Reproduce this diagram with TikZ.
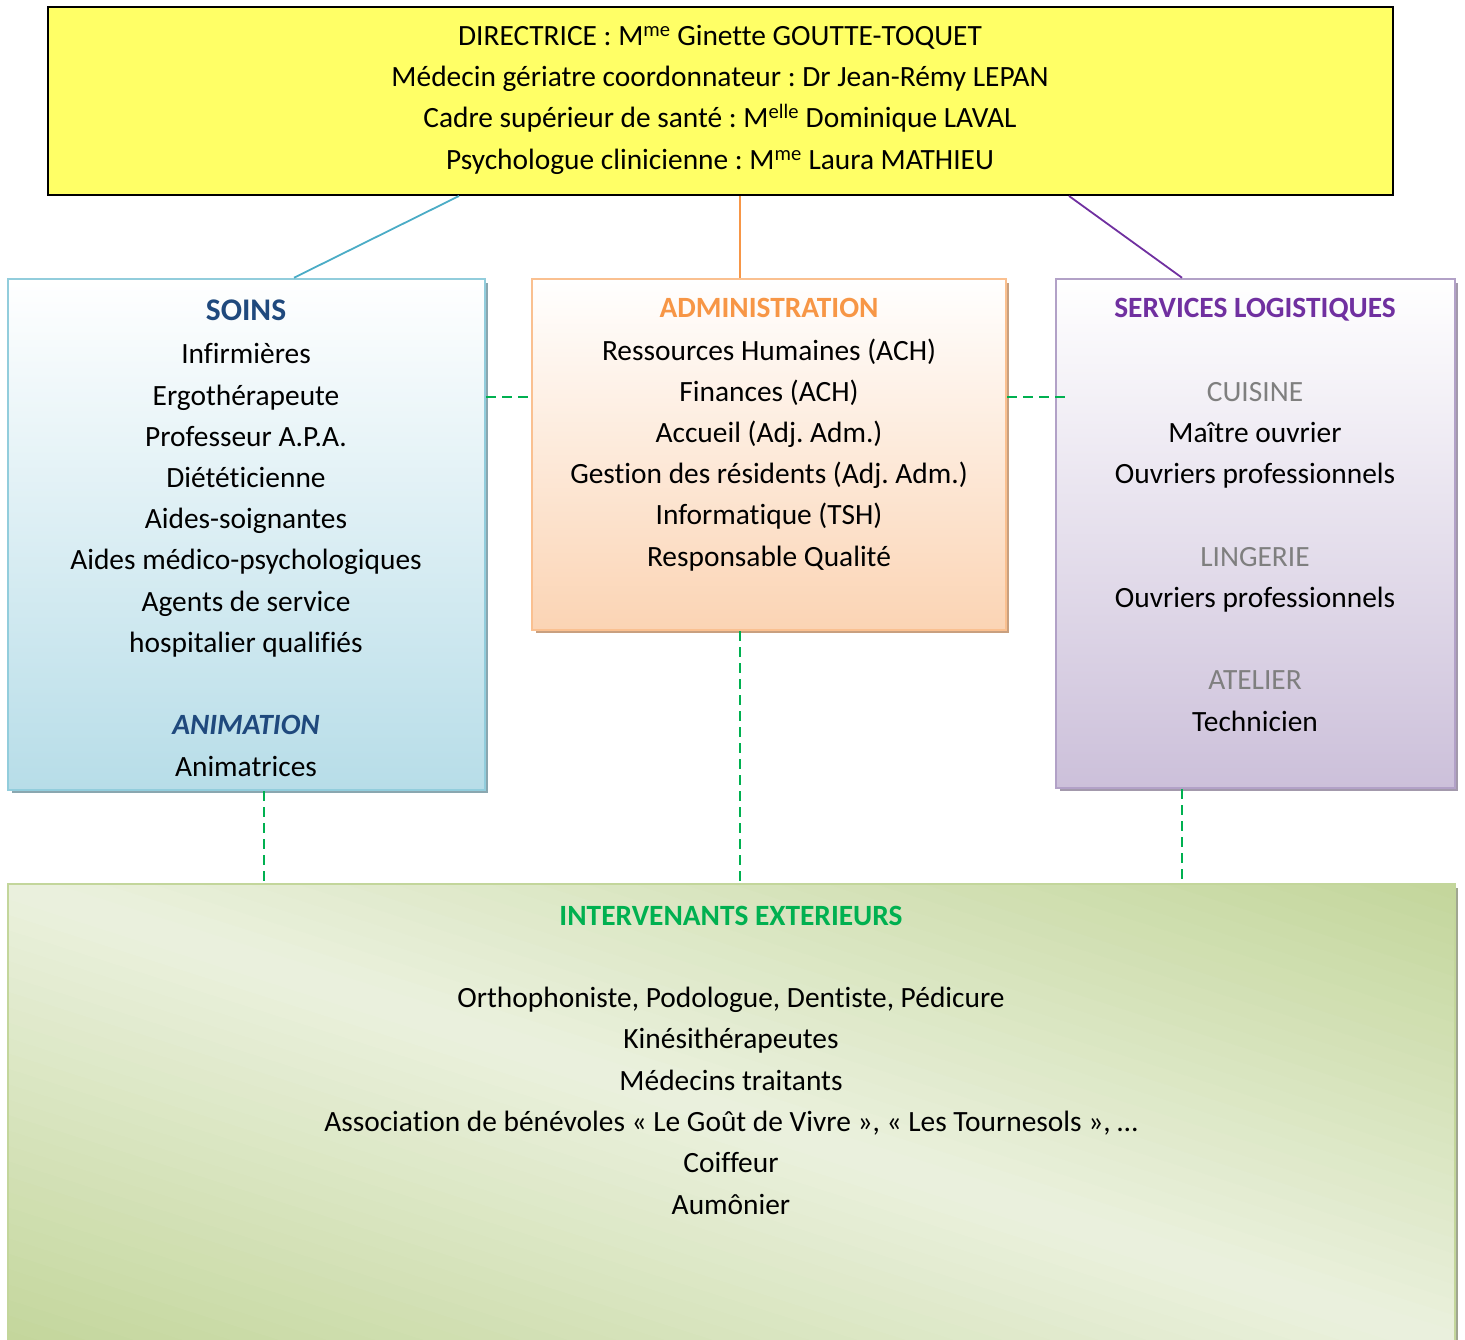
\documentclass[tikz,border=0pt]{standalone}
\usepackage{fontspec}
\setmainfont{Carlito}[Ligatures=CommonOff]
\frenchspacing
\definecolor{yel}{HTML}{FFFF66}
\definecolor{soinsB}{HTML}{92CDDC}
\definecolor{soinsF}{HTML}{B7DDE8}
\definecolor{soinsS}{HTML}{8AA7B0}
\definecolor{admB}{HTML}{FAC090}
\definecolor{admF}{HTML}{FBD4B4}
\definecolor{admS}{HTML}{C9A07F}
\definecolor{logB}{HTML}{B2A1C7}
\definecolor{logF}{HTML}{CCC0DA}
\definecolor{logS}{HTML}{A399AC}
\definecolor{extB}{HTML}{C3D69B}
\definecolor{extL}{HTML}{EBF1DE}
\definecolor{extS}{HTML}{A0A690}
\definecolor{dblue}{HTML}{1F497D}
\definecolor{orng}{HTML}{F79646}
\definecolor{purp}{HTML}{7030A0}
\definecolor{grn}{HTML}{00B050}
\definecolor{lblue}{HTML}{4BACC6}
\definecolor{gry}{HTML}{7F7F7F}
\begin{document}
\begin{tikzpicture}[x=1pt,y=-1pt,
  txt/.style={anchor=base,inner sep=0pt,font=\fontsize{29.4}{34}\selectfont},
  hd/.style={font=\fontsize{29.4}{34}\selectfont\bfseries},
  boxbase/.style={rectangle,inner sep=0pt,line width=2.5pt},
  dashline/.style={draw=grn,line width=2.2pt,dash pattern=on 10pt off 6pt},
  link/.style={line width=1.8pt}]
\useasboundingbox (0,0) rectangle (1465,1340);

% shadows
\fill[soinsS] (12,283) rectangle (488,793);
\fill[admS] (536,283) rectangle (1009,633);
\fill[logS] (1060,283) rectangle (1458,791);
\fill[extS] (12,888) rectangle (1458,1345);

% diagonal gradient of the bottom box
\begin{scope}
\clip (8,884) rectangle (1455,1346);
\foreach \i in {-30,...,29}{
  \pgfmathsetmacro{\da}{\i/30}
  \pgfmathsetmacro{\db}{(\i+1)/30+0.002}
  \pgfmathsetmacro{\pc}{abs((\i+0.5)/30)*100}
  \fill[extB!\pc!extL] ({8+1447*(\da-0.1)},837.8) -- ({8+1447*(\db-0.1)},837.8)
     -- ({8+1447*(\db+1.1)},1392.2) -- ({8+1447*(\da+1.1)},1392.2) -- cycle;
}
\end{scope}

% boxes
\node[boxbase,draw=black,line width=2pt,fill=yel,minimum width=1345pt,minimum height=188pt] (top) at (720.5,101) {};
\node[boxbase,draw=soinsB,top color=white,bottom color=soinsF,minimum width=477pt,minimum height=511pt] (soins) at (246.5,534.5) {};
\node[boxbase,draw=admB,top color=white,bottom color=admF,minimum width=474pt,minimum height=351pt] (adm) at (769,454.5) {};
\node[boxbase,draw=logB,top color=white,bottom color=logF,minimum width=399pt,minimum height=509pt] (log) at (1255.5,533.5) {};
\node[boxbase,draw=extB,minimum width=1447pt,minimum height=462pt] (ext) at (731.5,1115) {};

% connectors
\draw[link,lblue] ([xshift=-261.5pt]top.south) -- ([xshift=47.5pt]soins.north);
\draw[link,orng] ([xshift=19.5pt]top.south) -- ([xshift=-29pt]adm.north);
\draw[link,purp] ([xshift=348.5pt]top.south) -- ([xshift=-73.5pt]log.north);

\coordinate (dashEnd) at ([xshift=13pt,yshift=136.5pt]log.west);
\draw[dashline] ([yshift=137.5pt]soins.east) -- ([yshift=57.5pt]adm.west);
\draw[dashline] ([yshift=57.5pt]adm.east) -- (dashEnd);
\draw[dashline] ([xshift=17.5pt]soins.south) -- ([xshift=-467.5pt]ext.north);
\draw[dashline] ([xshift=-29pt]adm.south) -- ([xshift=8.5pt]ext.north);
\draw[dashline] ([xshift=-73.5pt]log.south) -- ([xshift=450.5pt]ext.north);

% top text
\node[txt] (t1) at (720,46) {DIRECTRICE : M\textsuperscript{me} Ginette GOUTTE-TOQUET};
\node[txt] (t2) at (720,87) {Médecin gériatre coordonnateur : Dr Jean-Rémy LEPAN};
\node[txt] (t3) at (720,128) {Cadre supérieur de santé : M\textsuperscript{elle} Dominique LAVAL};
\node[txt] (t4) at (720,170) {Psychologue clinicienne : M\textsuperscript{me} Laura MATHIEU};

% soins text
\node[txt,text=dblue,font=\fontsize{31.5}{36}\selectfont\bfseries] (s0) at (246,321) {SOINS};
\node[txt] (s1) at (246,363) {Infirmières};
\node[txt] (s2) at (246,405) {Ergothérapeute};
\node[txt] (s3) at (246,446) {Professeur A.P.A.};
\node[txt] (s4) at (246,487) {Diététicienne};
\node[txt] (s5) at (246,528) {Aides-soignantes};
\node[txt] (s6) at (246,569) {Aides médico-psychologiques};
\node[txt] (s7) at (246,611) {Agents de service};
\node[txt] (s8) at (246,652) {hospitalier qualifiés};
\node[txt,text=dblue,font=\fontsize{29.4}{34}\selectfont\bfseries\itshape] (s9) at (246,734) {ANIMATION};
\node[txt] (s10) at (246,776) {Animatrices};

% admin text
\node[txt,hd,text=orng] (a0) at (769,318) {ADMINISTRATION};
\node[txt] (a1) at (769,360) {Ressources Humaines (ACH)};
\node[txt] (a2) at (769,401) {Finances (ACH)};
\node[txt] (a3) at (769,442) {Accueil (Adj. Adm.)};
\node[txt] (a4) at (769,483) {Gestion des résidents (Adj. Adm.)};
\node[txt] (a5) at (769,524) {Informatique (TSH)};
\node[txt] (a6) at (769,566) {Responsable Qualité};

% logistics text
\node[txt,hd,text=purp] (l0) at (1255,318) {SERVICES LOGISTIQUES};
\node[txt,text=gry] (l1) at (1255,401) {CUISINE};
\node[txt] (l2) at (1255,442) {Maître ouvrier};
\node[txt] (l3) at (1255,483) {Ouvriers professionnels};
\node[txt,text=gry] (l4) at (1255,566) {LINGERIE};
\node[txt] (l5) at (1255,607) {Ouvriers professionnels};
\node[txt,text=gry] (l6) at (1255,689) {ATELIER};
\node[txt] (l7) at (1255,731) {Technicien};

% external text
\node[txt,hd,text=grn] (e0) at (731,925) {INTERVENANTS EXTERIEURS};
\node[txt] (e1) at (731,1007) {Orthophoniste, Podologue, Dentiste, Pédicure};
\node[txt] (e2) at (731,1048) {Kinésithérapeutes};
\node[txt] (e3) at (731,1090) {Médecins traitants};
\node[txt] (e4) at (731,1131) {Association de bénévoles « Le Goût de Vivre », « Les Tournesols », …};
\node[txt] (e5) at (731,1172) {Coiffeur};
\node[txt] (e6) at (731,1214) {Aumônier};
\end{tikzpicture}
\end{document}
